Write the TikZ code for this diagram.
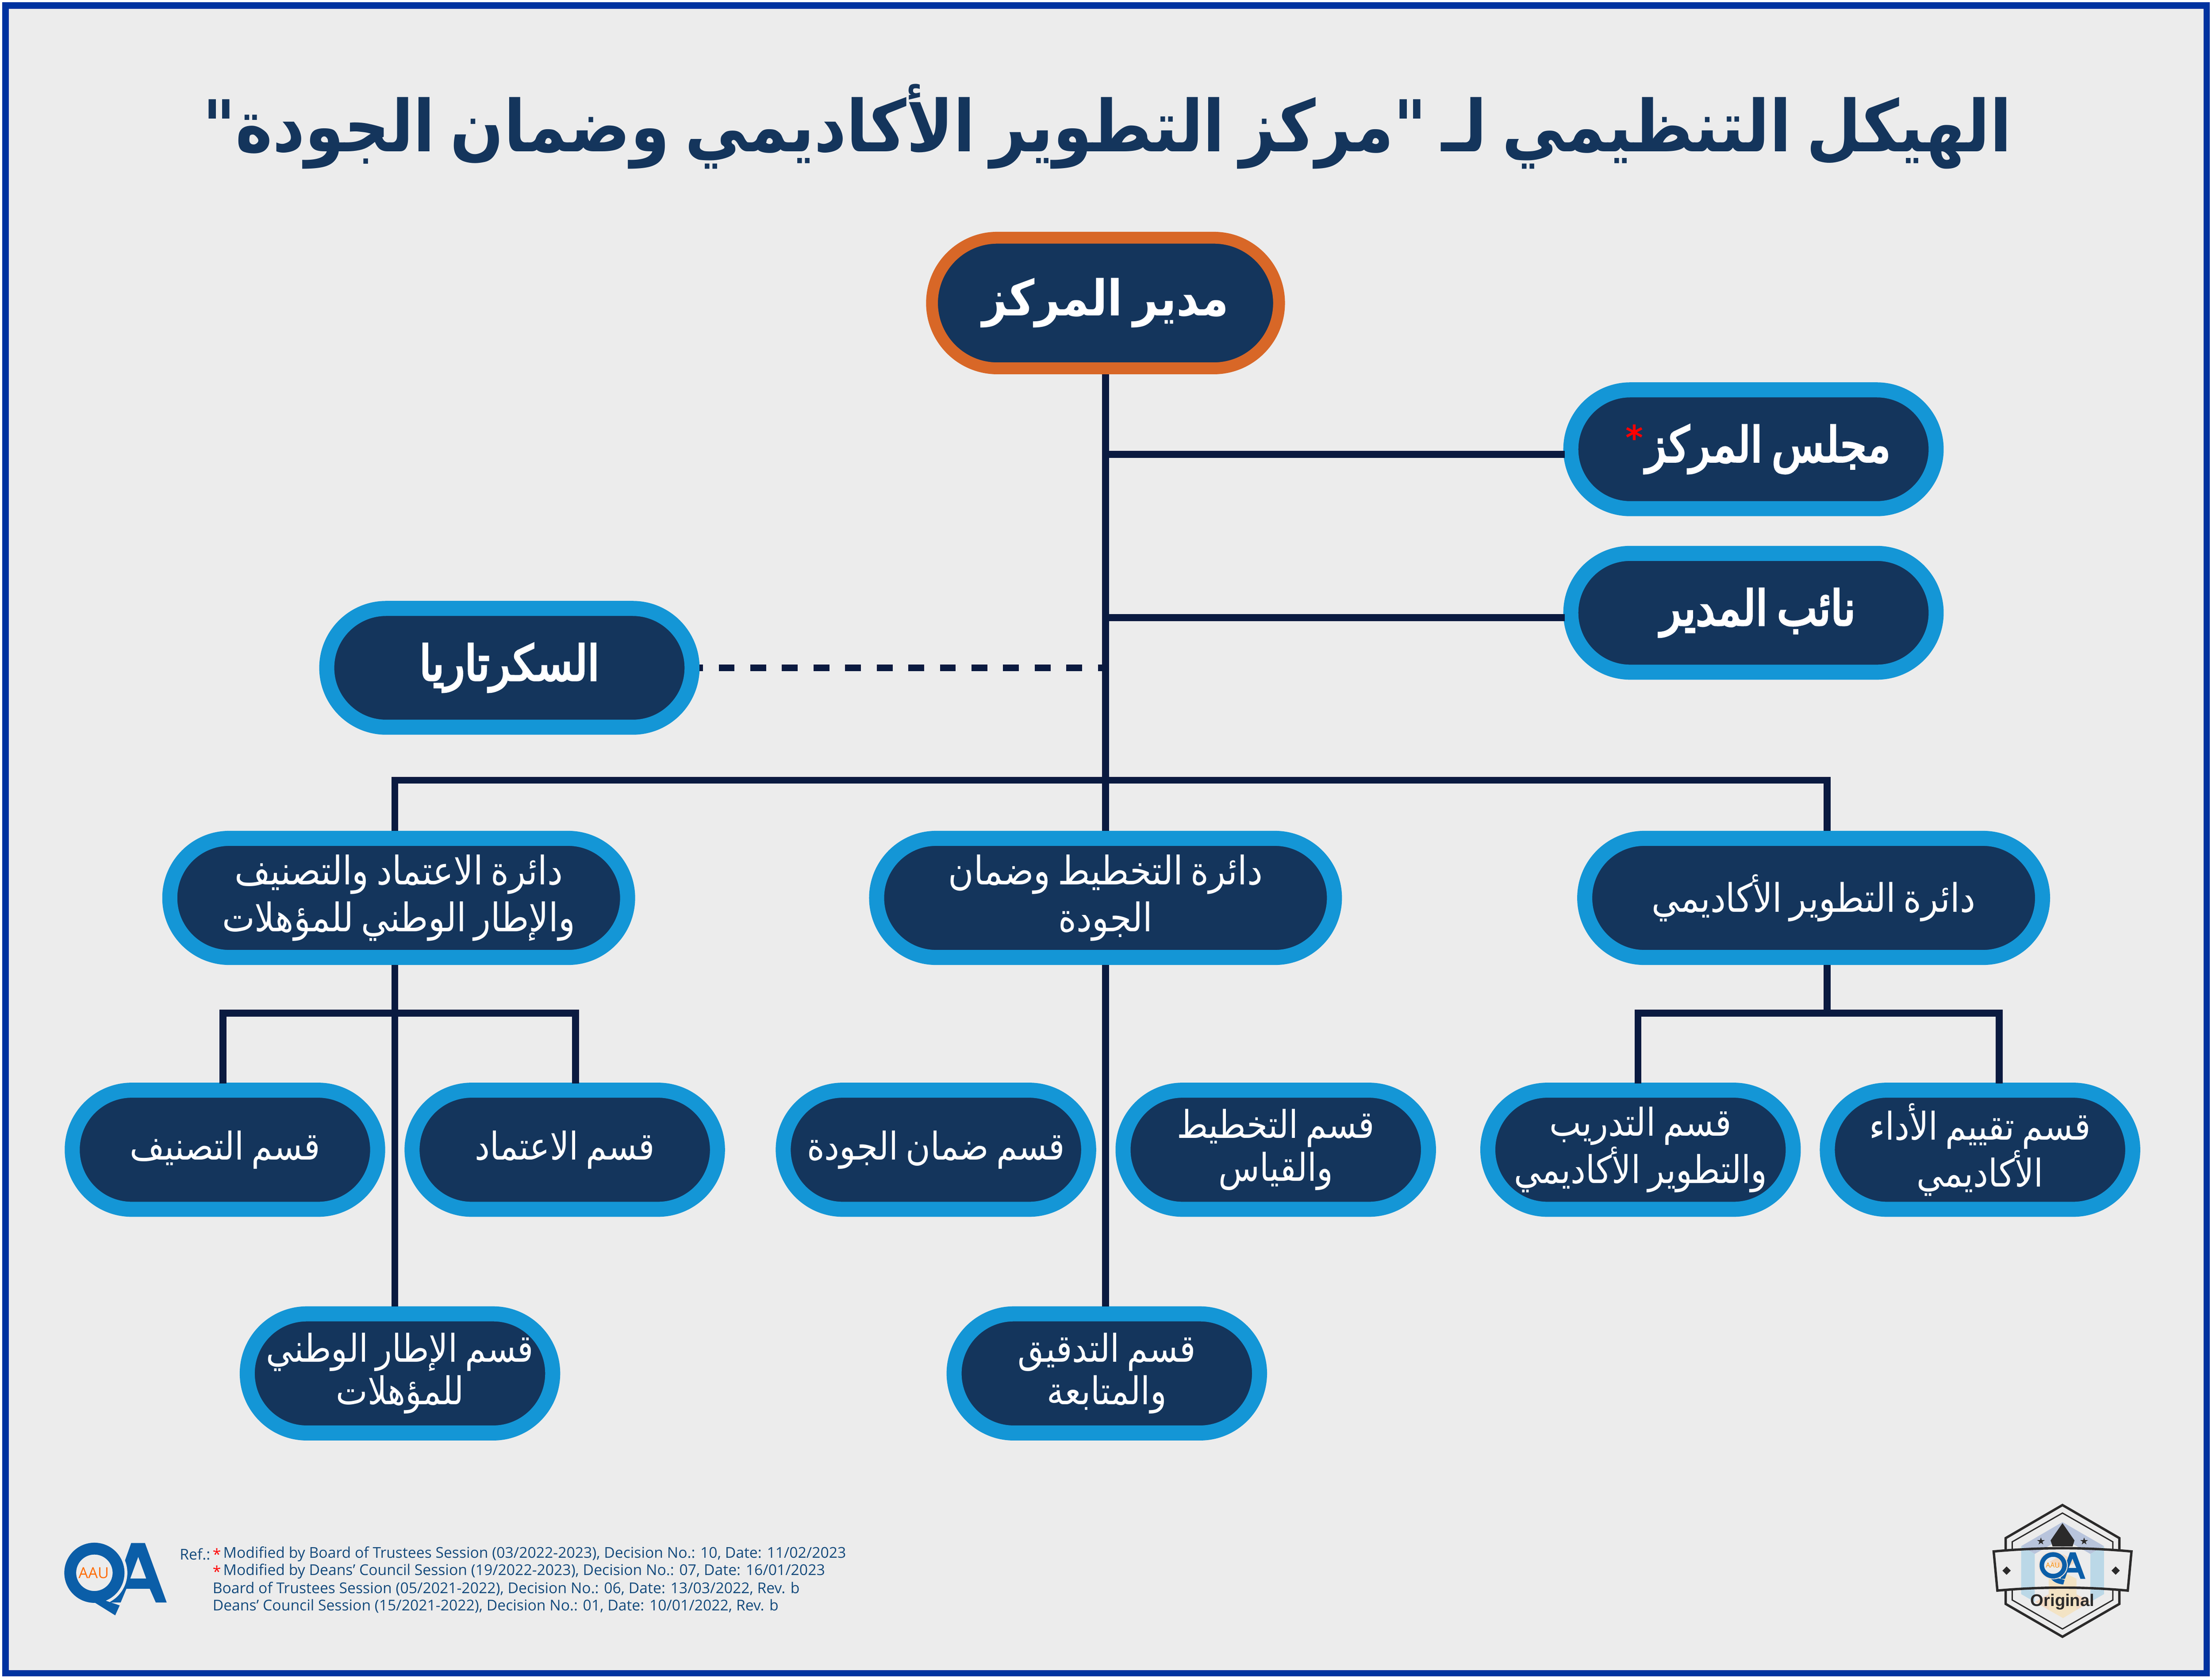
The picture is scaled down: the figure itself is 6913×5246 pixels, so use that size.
\documentclass[tikz,border=0pt]{standalone}
\usepackage{fontspec}
\usetikzlibrary{shapes.misc}
\TeXXeTstate=1
\newfontfamily\arabicfont[Script=Arabic,FakeStretch=0.88,WordSpace=0.7]{DejaVu Sans}
\newfontfamily\arabicmed[Script=Arabic,FakeStretch=0.88,WordSpace=0.7,FakeBold=4]{DejaVu Sans}
\setmainfont{Open Sans}
\newfontfamily\badgefont{Liberation Sans}
\newfontfamily\starfont{DejaVu Sans}
\newcommand{\arline}[1]{\beginR #1\endR}
\definecolor{pagebg}{HTML}{ECECEC}
\definecolor{framec}{HTML}{0033A0}
\definecolor{navy}{HTML}{14355C}
\definecolor{linec}{HTML}{0A1A40}
\definecolor{orangec}{HTML}{D86727}
\definecolor{bluec}{HTML}{1496D6}
\definecolor{refc}{HTML}{134A7C}
\definecolor{logoc}{HTML}{0B5EA8}
\definecolor{badgec}{HTML}{2B2A2A}
\definecolor{lavc}{HTML}{B8C4DC}
\definecolor{skyc}{HTML}{BBD8E7}
\definecolor{peachc}{HTML}{F3D9C2}
\definecolor{sandc}{HTML}{F3E3C4}
\tikzset{
 x=0.01cm,y=-0.01cm,
 pill/.style={rounded rectangle,fill=navy,draw=bluec,line width=0.47cm,text=white,inner sep=0pt,align=center,font=\arabicfont},
 toppill/.style={pill,draw=orangec,line width=0.37cm,minimum width=10.84cm,minimum height=4.08cm,font=\arabicfont\bfseries\fontsize{44}{54}\selectfont},
 sidepill/.style={pill,minimum width=11.41cm,minimum height=3.71cm,font=\arabicmed\fontsize{43}{54}\selectfont},
 deptpill/.style={pill,minimum width=14.30cm,minimum height=3.72cm,font=\arabicfont\fontsize{35}{42}\selectfont},
 unitpill/.style={pill,minimum width=9.54cm,minimum height=3.72cm,font=\arabicfont\fontsize{34}{38}\selectfont},
 conn/.style={draw=linec,line width=0.215cm},
 dotconn/.style={draw=linec,line width=0.215cm,dash pattern=on 0.495cm off 0.492cm,dash phase=0.39cm},
 refline/.style={anchor=west,inner sep=0pt,text=refc,font=\fontsize{13.25}{15}\selectfont},
}
\newcommand{\starpath}[2]{\fill[badgec,shift={(#1,#2)},scale=36] (0,-1) -- (0.225,-0.309) -- (0.951,-0.309) -- (0.363,0.118) -- (0.588,0.809) -- (0,0.382) -- (-0.588,0.809) -- (-0.363,0.118) -- (-0.951,-0.309) -- (-0.225,-0.309) -- cycle;}
\begin{document}
\begin{tikzpicture}
\useasboundingbox (0,0) rectangle (6913,5246);
\fill[white] (0,0) rectangle (6913,5246);
\draw[fill=pagebg,draw=framec,line width=0.2cm] (17,17) rectangle (6896,5229);
% title
\node[name=title,text=navy,inner sep=0pt,font=\arabicfont\bfseries\fontsize{63.5}{75}\selectfont] at (3461,395) {\arline{الهيكل التنظيمي لـ "مركز التطوير الأكاديمي وضمان الجودة"}};
% nodes
\node[toppill] (root) at (3455,947) {\arline{مدير المركز}};
\node[sidepill] (council) at (5480,1404) {\hspace*{26pt}\arline{مجلس المركز}};
\node[sidepill] (deputy) at (5480,1915) {\hspace*{8pt}\arline{نائب المدير}};
\node[inner sep=0pt,text=red,font=\starfont\bfseries\fontsize{30}{30}\selectfont] (cstar) at (5108,1366) {*};
\node[sidepill] (secr) at (1592,2087) {\arline{السكرتاريا}};
\node[deptpill] (deptL) at (1246,2806) {\arline{دائرة الاعتماد والتصنيف}\\\arline{والإطار الوطني للمؤهلات}};
\node[deptpill] (deptM) at (3455,2806) {\arline{دائرة التخطيط وضمان}\\\arline{الجودة}};
\node[deptpill] (deptR) at (5668,2806) {\arline{دائرة التطوير الأكاديمي}};
\node[unitpill] (u1) at (703,3593) {\arline{قسم التصنيف}};
\node[unitpill] (u2) at (1765,3593) {\arline{قسم الاعتماد}};
\node[unitpill] (u3) at (2925,3593) {\arline{قسم ضمان الجودة}};
\node[unitpill] (u4) at (3987,3593) {\arline{قسم التخطيط}\\\arline{والقياس}};
\node[unitpill] (u5) at (5127,3593) {\arline{قسم التدريب}\\\arline{والتطوير الأكاديمي}};
\node[unitpill] (u6) at (6188,3593) {\arline{قسم تقييم الأداء}\\\arline{الأكاديمي}};
\node[unitpill] (u7) at (1250,4292) {\arline{قسم الإطار الوطني}\\\arline{للمؤهلات}};
\node[unitpill] (u8) at (3459,4292) {\arline{قسم التدقيق}\\\arline{والمتابعة}};
% connectors
\coordinate (jc) at (3455,1420);
\coordinate (jd) at (3455,1930);
\coordinate (js) at (3455,2087);
\coordinate (busL) at (1234,2438);
\coordinate (busR) at (5710,2438);
\coordinate (topL) at (1234,2597);
\coordinate (topR) at (5710,2597);
\coordinate (botL) at (1234,3016);
\coordinate (botR) at (5710,3016);
\coordinate (endL) at (1234,4083);
\coordinate (brL1) at (697,3166);
\coordinate (brL2) at (1799,3166);
\coordinate (brR1) at (5119,3166);
\coordinate (brR2) at (6248,3166);
\coordinate (brRm) at (5710,3166);
\coordinate (dL1) at (697,3386);
\coordinate (dL2) at (1799,3386);
\coordinate (dR1) at (5119,3386);
\coordinate (dR2) at (6248,3386);
\coordinate (coE) at (4890,1420);
\coordinate (deE) at (4890,1930);
\coordinate (mdown) at (3455,4083);
\draw[conn] (root.south) -- (deptM.north);
\draw[conn] (deptM.south) -- (mdown);
\draw[conn] (jc) -- (coE);
\draw[conn] (jd) -- (deE);
\draw[dotconn] (secr.east) -- (js);
\draw[conn] (topL) -- (busL) -- (busR) -- (topR);
\draw[conn] (botL) -- (endL);
\draw[conn] (dL1) -- (brL1) -- (brL2) -- (dL2);
\draw[conn] (botR) -- (brRm);
\draw[conn] (dR1) -- (brR1) -- (brR2) -- (dR2);
% footer
\node[refline] (r0) at (561,4857) {Ref.:};
\node[refline,text=red] (s1) at (664,4857) {*};
\node[refline] (r1) at (697,4857) {Modified by Board of Trustees Session (03/2022-2023), Decision No.: 10, Date: 11/02/2023};
\node[refline,text=red] (s2) at (664,4911) {*};
\node[refline] (r2) at (697,4911) {Modified by Deans' Council Session (19/2022-2023), Decision No.: 07, Date: 16/01/2023};
\node[refline] (r3) at (664,4965) {Board of Trustees Session (05/2021-2022), Decision No.: 06, Date: 13/03/2022, Rev. b};
\node[refline] (r4) at (664,5019) {Deans' Council Session (15/2021-2022), Decision No.: 01, Date: 10/01/2022, Rev. b};
% left logo
\fill[logoc,even odd rule] (410,4822) -- (453,4822) -- (521,5008) -- (487,5008) -- (468,4965) -- (395,4965) -- (377,5008) -- (344,5008) -- cycle
   (432,4865) -- (457,4933) -- (407,4933) -- cycle;
\fill[pagebg] (295,4915) circle[radius=103];
\fill[logoc] (283,5000) -- (360,5048) -- (374,5017) -- (324,5000) -- cycle;
\fill[logoc,even odd rule] (295,4915) circle[radius=94] (295,4915) circle[radius=57];
\node[inner sep=0pt,text=orange!85!red,font=\fontsize{13.5}{15}\selectfont] (aau) at (293,4916) {AAU};
% badge
\begin{scope}[shift={(6150,4650)},xscale=0.3507,yscale=0.3333]
\draw[badgec,line width=0.075cm] (843,160) -- (1350,470) -- (1350,1087) -- (843,1395) -- (337,1087) -- (337,470) -- cycle;
\draw[badgec,line width=0.04cm] (843,235) -- (1292,505) -- (1292,1050) -- (843,1322) -- (395,1050) -- (395,505) -- cycle;
\fill[pagebg] (230,595) .. controls (640,555) and (1050,555) .. (1458,595) -- (1425,962) .. controls (1040,925) and (650,925) .. (263,962) -- cycle;
\fill[lavc] (843,320) -- (1213,545) -- (1092,618) -- (843,470) -- (596,618) -- (475,545) -- cycle;
\fill[skyc] (475,545) -- (596,618) -- (596,1068) -- (475,995) -- cycle;
\fill[skyc] (1213,545) -- (1092,618) -- (1092,1068) -- (1213,995) -- cycle;
\fill[peachc] (848,622) -- (968,692) -- (848,765) -- (728,692) -- cycle;
\fill[peachc] (600,1068) -- (720,997) -- (720,1143) -- cycle;
\fill[peachc] (968,997) -- (1092,1068) -- (968,1143) -- cycle;
\fill[sandc] (720,850) -- (848,790) -- (968,850) -- (968,1143) -- (848,1220) -- (720,1143) -- cycle;
\draw[badgec,line width=0.075cm] (230,595) .. controls (640,555) and (1050,555) .. (1458,595) -- (1425,962) .. controls (1040,925) and (650,925) .. (263,962) -- cycle;
\fill[badgec] (843,330) -- (950,492) -- (933,548) -- (755,548) -- (737,492) -- cycle;
\starpath{651}{500}
\starpath{1036}{500}
\fill[badgec] (308,775) -- (345,736) -- (382,775) -- (345,814) -- cycle;
\fill[badgec] (1280,775) -- (1317,736) -- (1354,775) -- (1317,814) -- cycle;
\fill[logoc,even odd rule] (910,603) -- (960,603) -- (1047,852) -- (1003,852) -- (982,793) -- (885,793) -- (865,852) -- (825,852) -- cycle
   (932,662) -- (966,750) -- (898,750) -- cycle;
\fill[logoc] (735,845) .. controls (770,890) and (810,900) .. (850,905) -- (862,862) -- (800,845) -- cycle;
\fill[pagebg!50!peachc,even odd rule] (760,725) ellipse[x radius=130,y radius=131] (760,725) ellipse[x radius=121,y radius=123];
\fill[logoc,even odd rule] (760,725) ellipse[x radius=121,y radius=123] (760,725) ellipse[x radius=81,y radius=80];
\node[inner sep=0pt,text=orange!90!yellow,font=\fontsize{6.2}{7}\selectfont,name=aau2] at (757,725) {AAU};
\node[inner sep=0pt,text=badgec,font=\badgefont\bfseries\fontsize{15}{18}\selectfont,name=orig] at (843,1068) {Original};
\end{scope}
\end{tikzpicture}
\end{document}
